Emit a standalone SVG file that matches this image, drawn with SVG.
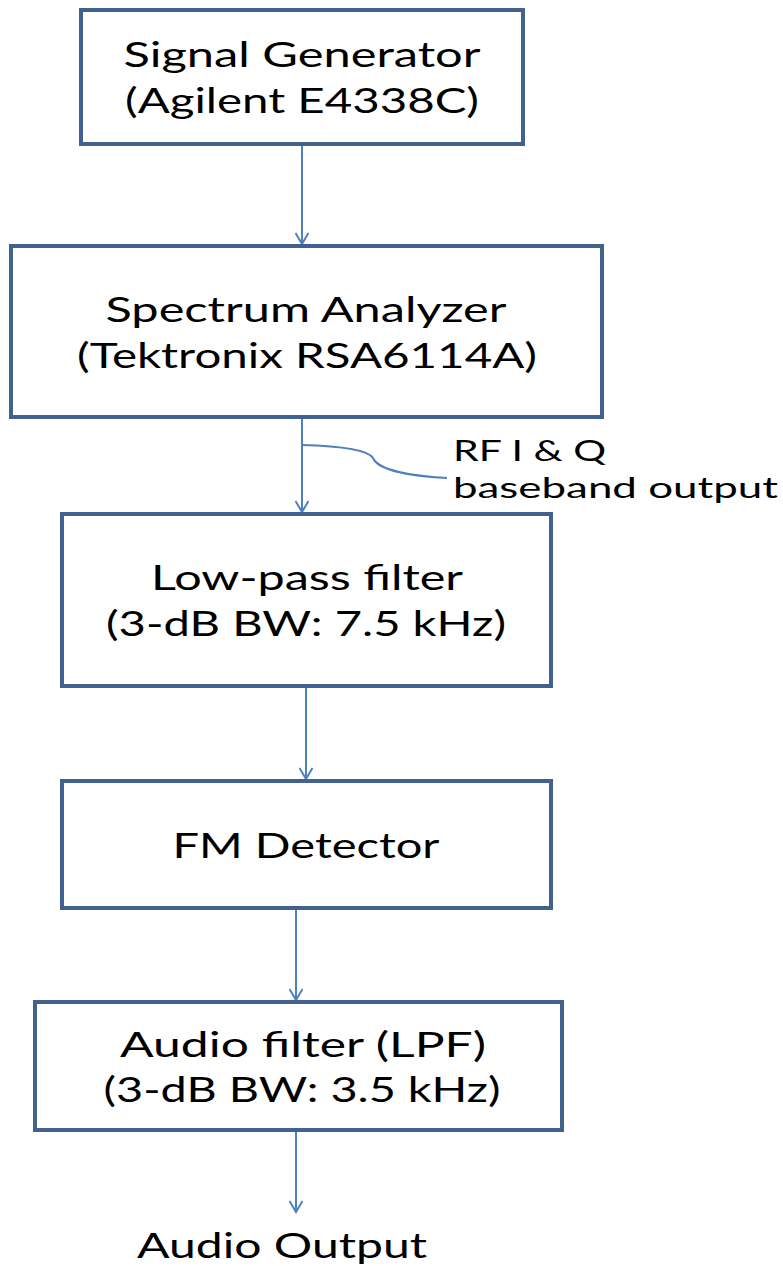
<svg xmlns="http://www.w3.org/2000/svg" width="783" height="1266" viewBox="0 0 783 1266">
<style>
.box{fill:#fff;stroke:#41618F;stroke-width:4}
.t{font-family:Lato,"Open Sans","Liberation Sans",sans-serif;font-size:35px;fill:#000;text-anchor:middle}
.s{font-family:Lato,"Open Sans","Liberation Sans",sans-serif;font-size:29px;fill:#000}
.c{fill:none;stroke:#4F81BD;stroke-width:2}
</style>
<defs>
<marker id="ah" viewBox="0 0 14 14" refX="12" refY="7" markerWidth="14" markerHeight="14" markerUnits="userSpaceOnUse" orient="auto">
<path d="M1,0.5 L12,7 L1,13.5" fill="none" stroke="#4F81BD" stroke-width="2"/>
</marker>
</defs>
<g id="connectors">
<line class="c" x1="302" y1="146" x2="302" y2="244" marker-end="url(#ah)"/>
<line class="c" x1="302" y1="419" x2="302" y2="512" marker-end="url(#ah)"/>
<line class="c" x1="306" y1="688" x2="306" y2="779" marker-end="url(#ah)"/>
<line class="c" x1="296" y1="910" x2="296" y2="1000" marker-end="url(#ah)"/>
<line class="c" x1="296" y1="1132" x2="296" y2="1212" marker-end="url(#ah)"/>
<path class="c" d="M302,445 C340,446 368,450 373,458 C378,470 410,476 447,478" stroke-width="1.5"/>
</g>
<g id="n1">
<rect class="box" x="81" y="10" width="442" height="134"/>
<text class="t" x="302" y="67" textLength="357" lengthAdjust="spacingAndGlyphs">Signal Generator</text>
<text class="t" x="302" y="113" textLength="354" lengthAdjust="spacingAndGlyphs">(Agilent E4338C)</text>
</g>
<g id="n2">
<rect class="box" x="11" y="246" width="591" height="171"/>
<text class="t" x="306" y="322" textLength="401" lengthAdjust="spacingAndGlyphs">Spectrum Analyzer</text>
<text class="t" x="307" y="368" textLength="460" lengthAdjust="spacingAndGlyphs">(Tektronix RSA6114A)</text>
</g>
<g id="n3">
<rect class="box" x="62" y="514" width="489" height="172"/>
<text class="t" x="307" y="590" textLength="312" lengthAdjust="spacingAndGlyphs">Low-pass filter</text>
<text class="t" x="306" y="636" textLength="400" lengthAdjust="spacingAndGlyphs">(3-dB BW: 7.5 kHz)</text>
</g>
<g id="n4">
<rect class="box" x="62" y="781" width="489" height="127"/>
<text class="t" x="306" y="858" textLength="267" lengthAdjust="spacingAndGlyphs">FM Detector</text>
</g>
<g id="n5">
<rect class="box" x="35" y="1002" width="527" height="128"/>
<text class="t" x="303" y="1057" textLength="366" lengthAdjust="spacingAndGlyphs">Audio filter (LPF)</text>
<text class="t" x="302" y="1102" textLength="397" lengthAdjust="spacingAndGlyphs">(3-dB BW: 3.5 kHz)</text>
</g>
<g id="label-rf">
<text class="s" x="453" y="461" textLength="153" lengthAdjust="spacingAndGlyphs">RF I &amp; Q</text>
<text class="s" x="453" y="498" textLength="325" lengthAdjust="spacingAndGlyphs">baseband output</text>
</g>
<g id="label-out">
<text class="t" x="282" y="1258" textLength="290" lengthAdjust="spacingAndGlyphs">Audio Output</text>
</g>
</svg>
